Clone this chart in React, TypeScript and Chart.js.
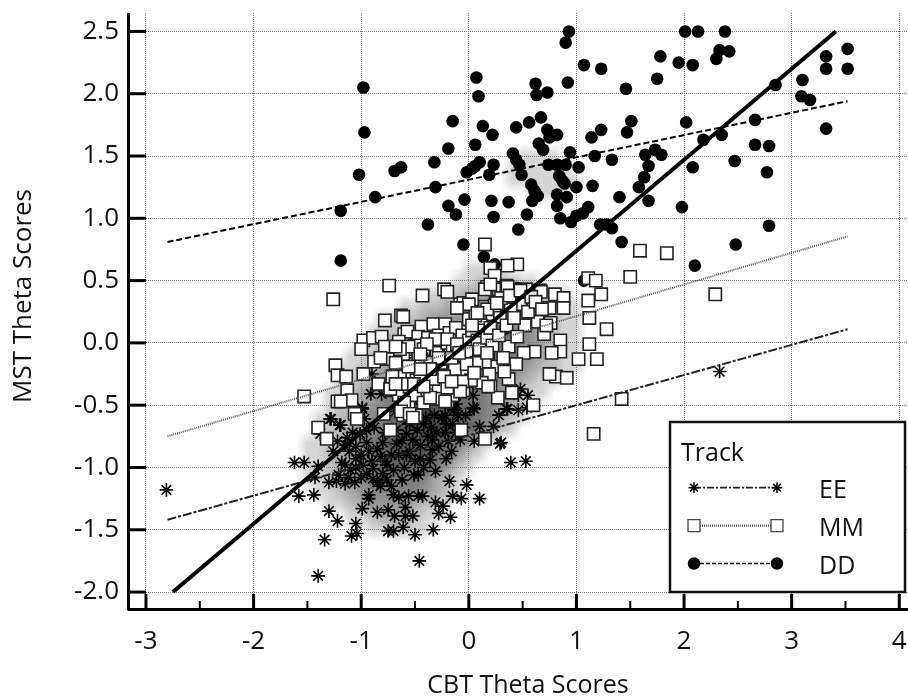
import React, { useEffect, useRef } from "react";
import { Chart, registerables } from "chart.js";

Chart.register(...registerables);

const xTickValues = [-3, -2, -1, 0, 1, 2, 3, 4];
const xMinorValues = [-2.5, -1.5, -0.5, 0.5, 1.5, 2.5, 3.5];
const yTickValues = [-2, -1.5, -1, -0.5, 0, 0.5, 1, 1.5, 2, 2.5];
const xAxisTitle = "CBT Theta Scores";
const yAxisTitle = "MST Theta Scores";
const legendTitle = "Track";
const trackNames = ["EE", "MM", "DD"];

const ddPoints = [
  [-0.98,2.05],[-0.97,1.69],[-1.02,1.35],[-0.87,1.17],[-1.19,1.06],[-1.19,0.66],[-0.69,1.38],[-0.63,1.41],[-0.32,1.45],[-0.31,1.25],
  [-0.19,1.56],[-0.15,1.78],[-0.38,0.95],[-0.19,1.10],[-0.12,1.03],[-0.04,1.15],[-0.05,0.79],[0.14,0.69],[0.24,0.63],[0.07,2.13],
  [0.09,1.98],[0.13,1.74],[0.22,1.67],[0.06,1.59],[-0.02,1.37],[0.03,1.40],[0.06,1.42],[0.10,1.45],[0.23,1.43],[0.19,1.35],
  [0.21,1.14],[0.23,1.01],[0.93,2.50],[0.90,2.41],[1.07,2.23],[1.23,2.20],[0.92,2.09],[0.62,2.08],[0.73,2.01],[0.63,1.99],
  [1.46,2.04],[1.78,2.30],[1.75,2.12],[1.95,2.25],[2.08,2.23],[2.01,2.50],[2.13,2.50],[2.38,2.50],[2.33,2.35],[2.42,2.34],
  [2.30,2.28],[2.85,2.07],[3.10,2.11],[3.32,2.30],[3.52,2.36],[3.32,2.20],[3.52,2.20],[3.09,1.98],[3.17,1.95],[3.32,1.72],
  [2.66,1.79],[2.02,1.77],[1.51,1.78],[1.47,1.69],[1.23,1.71],[1.14,1.65],[0.67,1.81],[0.56,1.77],[0.44,1.73],[0.73,1.71],
  [0.75,1.65],[0.82,1.67],[0.65,1.60],[0.69,1.55],[0.94,1.53],[1.17,1.50],[1.33,1.47],[1.64,1.51],[1.73,1.55],[1.79,1.51],
  [1.67,1.42],[1.63,1.33],[1.58,1.25],[1.67,1.14],[1.40,1.17],[2.08,1.41],[2.18,1.63],[2.35,1.67],[2.66,1.59],[2.79,1.58],
  [2.47,1.46],[2.77,1.37],[1.98,1.09],[2.79,0.94],[2.48,0.79],[2.10,0.62],[0.41,1.52],[0.44,1.47],[0.47,1.43],[0.49,1.35],
  [0.74,1.43],[0.82,1.43],[0.90,1.43],[1.02,1.41],[0.84,1.34],[0.87,1.30],[0.89,1.28],[1.00,1.25],[1.15,1.26],[0.58,1.27],
  [0.61,1.22],[0.64,1.18],[0.59,1.14],[0.82,1.19],[0.91,1.17],[0.82,1.10],[0.37,1.13],[0.54,1.03],[0.46,0.91],[0.85,1.00],
  [0.95,0.97],[1.00,1.02],[1.06,1.04],[1.11,1.09],[1.22,0.95],[1.28,0.95],[1.33,0.92],[1.42,0.81],[1.07,0.50],[0.34,0.115],[0.45,0.44],
];

const mmPoints = [
  [1.59,0.74],[1.84,0.72],[1.50,0.53],[2.29,0.39],[1.11,0.52],[1.18,0.50],[1.23,0.39],[1.11,0.34],[1.12,0.20],[1.28,0.11],
  [0.15,0.79],[0.20,0.60],[0.24,0.54],[0.17,0.45],[0.28,0.43],[-1.26,0.35],[-0.74,0.46],[-0.43,0.38],[-0.23,0.43],[-0.20,0.41],
  [-0.78,0.18],[-0.63,0.22],[-0.61,0.21],[-0.44,0.13],[0.45,0.63],[0.36,0.62],[0.66,0.42],[0.35,0.46],[-1.53,-0.43],
  [-0.98,0.02],[-0.89,0.04],[-0.81,0.05],[-1.00,-0.05],[-0.78,-0.03],[-1.24,-0.18],[-1.22,-0.26],[-1.14,-0.27],[-0.98,-0.25],[-0.82,-0.13],[-0.88,-0.15],
  [-1.13,-0.38],[-1.09,-0.46],[-1.22,-0.47],[-1.19,-0.47],[-1.40,-0.68],[-1.32,-0.77],[-1.06,-0.57],[-1.04,-0.61],[-0.84,-0.33],[-0.73,-0.38],[-0.79,-0.57],[-0.73,-0.70],
  [-0.33,0.15],[-0.22,0.15],[-0.08,0.09],[-0.60,0.07],[-0.57,0.09],[-0.47,0.05],[-0.08,0.31],[-0.05,0.32],[0.03,0.35],[0.15,0.43],[0.20,0.47],[0.36,0.45],
  [0.53,0.43],[0.67,0.41],[0.80,0.39],[0.88,0.36],[0.88,0.28],[0.75,0.28],[0.60,0.27],[0.48,0.31],[0.25,0.32],[0,0.19],[0.15,0.29],[0.22,0.23],[0.39,0.27],
  [0.11,0.14],[0.29,0.21],[0.52,0.14],[0.64,0.17],[0.76,0.16],[0.70,0.07],[0.85,0.02],[0.85,-0.07],[0.77,-0.08],[0.61,-0.07],[0.51,-0.08],[0.37,-0.03],
  [0.44,-0.17],[0.37,-0.29],[0.20,-0.35],[0.27,-0.44],[0.40,-0.40],[0.60,-0.50],[0.15,-0.77],[-0.07,-0.70],[1.02,-0.13],[0.81,-0.27],[0.91,-0.28],
  [0.18,-0.09],[0,-0.17],[0.08,-0.15],[0.25,-0.19],[0.19,-0.25],[0.33,-0.23],[-0.08,-0.39],[-0.05,-0.31],[-0.20,-0.47],[-0.36,-0.45],[-0.29,-0.43],
  [-0.48,-0.30],[-0.51,-0.24],[-0.61,-0.11],[-0.54,-0.11],[-0.45,-0.06],[-0.33,0.02],[-0.23,-0.04],[-0.14,0.02],[-0.05,-0.03],[-0.26,-0.11],[-0.17,-0.09],
  [-0.39,-0.14],[-0.51,-0.17],[-0.67,-0.22],[-0.70,-0.27],[-0.62,-0.31],[-0.29,-0.25],[-0.12,-0.17],[-0.11,-0.25],[-0.17,-0.30],[-0.23,-0.35],[-0.42,-0.38],
  [-0.56,-0.50],[-0.61,-0.58],[-0.49,-0.58],
  [-0.62,-0.12],[-0.58,-0.05],[-0.56,-0.2],[-0.5,-0.02],[-0.47,-0.12],[-0.44,-0.22],[-0.4,-0.05],[-0.38,0.04],[-0.35,-0.18],[-0.33,-0.3],[-0.3,-0.08],
  [-0.28,0.06],[-0.26,-0.18],[-0.24,-0.26],[-0.2,0.0],[-0.18,0.08],[-0.15,-0.05],[-0.14,-0.15],[-0.12,0.12],[-0.1,-0.33],[-0.08,-0.02],[-0.06,0.06],
  [-0.04,-0.1],[-0.03,-0.22],[0,0.02],[0.02,-0.08],[0.03,0.1],[0.05,-0.25],[0.06,0.22],[0.08,0.02],[0.1,-0.05],[0.12,-0.32],[0.13,0.1],[0.15,-0.15],
  [0.17,0.04],[0.2,0.12],[0.22,-0.02],[0.24,0.3],[0.28,0.06],[0.3,0.36],[0.32,-0.12],[0.35,0.14],[0.38,0.38],[0.42,0.2],[0.45,0.05],[0.48,0.42],
  [0.55,0.25],[0.58,0.37],[0.62,0.33],[0.68,0.27],[0.72,0.14],[-0.72,-0.13],[-0.68,-0.35],[-0.65,-0.42],[-0.6,-0.26],[-0.55,-0.35],[-0.5,-0.42],
  [-0.45,-0.3],[-0.42,-0.48],[-0.38,-0.35],[-0.33,-0.42],[-0.28,-0.35],[-0.25,-0.45],[-0.15,-0.42],[-0.05,-0.38],[0.02,-0.3],[-0.6,-0.48],[-0.63,-0.55],
  [-0.55,-0.57],[-0.52,-0.6],[1.16,-0.73],[1.42,-0.45],[1.19,-0.13],[1.12,-0.01],[0.75,-0.25],
  [-0.65,0.01],[-0.61,-0.09],[-0.56,-0.03],[-0.42,-0.05],[-0.31,0.03],[-0.20,0.03],[-0.11,-0.01],[-0.02,-0.07],[0.07,-0.16],[0.17,-0.08],[-0.44,-0.13],
  [-0.64,-0.27],[-0.71,-0.27],[-0.73,-0.37],[-0.82,-0.12],[-0.36,-0.16],[-0.23,-0.13],[-0.13,-0.21],[-0.02,-0.17],[-0.06,-0.31],[0.05,-0.24],[0.18,-0.35],
  [-0.33,-0.29],[-0.20,-0.36],[-0.08,-0.39],[-0.22,-0.47],[-0.36,-0.44],[-0.64,-0.05],[-0.68,-0.03],[-0.39,-0.01],[-0.45,-0.09],[-0.28,-0.12],[-0.16,-0.12],
  [-0.09,-0.08],[-0.36,-0.21],[-0.45,-0.21],[-0.56,-0.19],[-0.68,-0.16],[-0.61,-0.33],[-0.68,-0.33],[-0.51,-0.33],[-0.42,-0.35],[-0.23,-0.27],[-0.16,-0.31],
  [0.03,0.14],[0,0.31],[-0.11,0.28],[0.17,0.27],[0.26,0.32],[0.08,0.24],
];

const eePoints = [
  [-2.81,-1.18],[-1.40,-1.87],[-0.46,-1.75],[-1.34,-1.58],[-1.09,-1.55],[-1.04,-1.53],[-1.05,-1.45],[-1.22,-1.43],[-1.30,-1.35],[-1.58,-1.23],
  [-1.44,-1.22],[-1.62,-0.96],[-1.53,-0.96],[-1.40,-0.99],[-1.43,-1.08],[-1.30,-1.12],[-1.21,-1.06],[-1.23,-1.11],[-1.15,-1.13],[-1.06,-1.12],
  [-1.10,-1.02],[-1.18,-0.96],[-1.26,-0.87],[-1.11,-0.87],[-1.22,-0.79],[-1.13,-0.76],[-1.01,-0.73],[-1.38,-0.73],[-1.20,-0.66],[-1.28,-0.61],
  [-0.99,-0.52],[-0.97,-0.61],[-0.93,-0.87],[-0.82,-0.91],[-0.89,-1.01],[-0.98,-0.98],[-0.76,-0.98],[-0.67,-0.81],[-0.58,-0.73],[-0.58,-0.90],
  [-0.55,-0.87],[-0.45,-0.93],[-0.36,-0.94],[-0.31,-1.03],[-0.51,-1.06],[-0.47,-1.06],[-0.62,-1.10],[-0.76,-1.10],[-0.82,-1.15],[-0.89,-1.09],
  [-0.93,-1.22],[-0.93,-1.25],[-0.99,-1.33],[-0.70,-1.22],[-0.65,-1.24],[-0.56,-1.23],[-0.47,-1.23],[-0.43,-1.23],[-0.18,-1.11],[-0.02,-1.14],
  [-0.15,-1.23],[-0.07,-1.25],[0.10,-1.25],[-0.31,-1.28],[-0.24,-1.31],[-0.28,-1.37],[-0.17,-1.40],[-0.59,-1.32],[-0.75,-1.34],[-0.85,-1.36],
  [-0.69,-1.39],[-0.59,-1.39],[-0.52,-1.39],[-0.75,-1.51],[-0.70,-1.51],[-0.61,-1.48],[-0.50,-1.54],[-0.33,-1.50],[0.39,-0.96],[0.53,-0.95],
  [0.29,-0.81],[0.05,-0.79],[-0.08,-0.78],[-0.21,-0.93],[-0.16,-0.87],[-0.34,-0.86],[-0.34,-0.78],[-0.19,-0.79],[0.10,-0.67],[0.23,-0.67],
  [0.28,-0.58],[0.35,-0.53],[0.46,-0.54],[0.54,-0.52],[0.04,-0.52],[-0.13,-0.53],[-0.21,-0.65],[-0.42,-0.65],[-0.58,-0.62],
  [-0.90,-0.25],[-0.91,-0.41],[-0.81,-0.41],[-0.99,-0.53],[-1.29,-0.61],[-1.19,-0.66],[0.48,-0.37],[0.46,-0.42],[0.55,-0.42],[0.36,-0.53],
  [0.30,-0.80],[0.04,-0.42],[0.05,-0.53],[-0.12,-0.49],[-0.20,-0.30],[0,-0.33],[-0.14,-0.54],[-0.22,-0.58],[-0.51,-0.47],[-0.73,-0.70],[-0.50,-0.58],[2.33,-0.23],
  [-1.05,-0.83],[-1.0,-0.9],[-0.95,-0.8],[-0.9,-0.95],[-0.85,-0.85],[-0.8,-0.8],[-0.78,-0.95],[-0.72,-0.9],[-0.7,-1.02],[-0.68,-0.7],[-0.65,-0.9],
  [-0.62,-0.78],[-0.6,-1.0],[-0.55,-0.65],[-0.52,-0.78],[-0.5,-0.95],[-0.48,-0.7],[-0.45,-0.82],[-0.42,-1.0],[-0.4,-0.6],[-0.38,-0.75],[-0.35,-0.68],
  [-0.32,-0.58],[-0.3,-0.72],[-0.28,-0.83],[-0.25,-0.6],[-0.22,-0.72],[-0.15,-0.65],[-0.12,-0.72],[-0.1,-0.58],[-0.05,-0.68],[-0.03,-0.58],[-1.15,-0.98],
  [-1.12,-1.08],[-1.05,-1.0],[-1.0,-1.08],[-0.95,-1.05],[-0.85,-1.12],[-0.8,-1.05],[-0.72,-1.15],[-0.68,-0.55],[-0.6,-0.52],[-0.78,-0.72],[-0.88,-0.68],
  [-0.95,-0.7],[-1.08,-0.72],[-1.15,-0.82],[-1.05,-0.93],
];

const identityLine = [[-2.75,-2.0],[3.41,2.5]];
const ddFitLine = [[-2.80,0.81],[3.52,1.94]];
const mmFitLine = [[-2.80,-0.75],[3.52,0.855]];
const eeFitLine = [[-2.80,-1.42],[3.52,0.11]];

// Density cloud: first column is x=-1.6, one column per 0.1; one row per 0.1 of y, first row y=1.6.
const densityFirstX = -1.6;
const densityFirstY = 1.6;
const densityCellSize = 0.1;
const densityColumns = 29;
const densityRows = [
  "",
  "0000000000000000000001111",
  "00000000000000000000111111",
  "000000000000000000001111111",
  "00000000000000000000001111",
  "", "", "", "",
  "",
  "00000000000000001111",
  "00000000000000011222211",
  "00000000000011223333333211",
  "000000000011223344444332211",
  "000000001122344455554433211",
  "000000011223455666665543211",
  "000000112334566776666543211",
  "000001122345677776666543211",
  "000011223456677776665432211",
  "0000112345667777766543211",
  "000112345677777766543211",
  "00012234567888877654321",
  "0011234567899988765321",
  "001223456789999876421",
  "0112345678888876421",
  "011234567888876421",
  "01123456777776421",
  "0112345666665321",
  "0011234555554321",
  "000112344443211",
  "00000112333211",
  "0000000112211",
  "",
];

const densityLevelGray = [255, 214, 192, 170, 152, 136, 120, 104, 88, 70];

const FONT = '"Open Sans", "Noto Sans", sans-serif';

const toXY = (pts: number[][]) => pts.map(([x, y]) => ({ x, y }));

const noPadding = (s: any) => {
  s.paddingLeft = 0;
  s.paddingRight = 0;
  s.paddingTop = 0;
  s.paddingBottom = 0;
};

const decorPlugin = {
  id: "decor",
  beforeDraw(chart: any) {
    const { ctx, scales } = chart;
    const { x, y } = scales;
    ctx.save();
    ctx.fillStyle = "#fff";
    ctx.fillRect(0, 0, chart.width, chart.height);
    const off = document.createElement("canvas");
    off.width = densityColumns;
    off.height = densityRows.length;
    const octx = off.getContext("2d") as CanvasRenderingContext2D;
    octx.fillStyle = "#fff";
    octx.fillRect(0, 0, off.width, off.height);
    densityRows.forEach((row, r) => {
      [...row].forEach((c, i) => {
        const g = densityLevelGray[Number(c)];
        octx.fillStyle = `rgb(${g},${g},${g})`;
        octx.fillRect(i, r, 1, 1);
      });
    });
    const half = densityCellSize / 2;
    const x0 = x.getPixelForValue(densityFirstX - half);
    const x1 = x.getPixelForValue(densityFirstX - half + densityColumns * densityCellSize);
    const y0 = y.getPixelForValue(densityFirstY + half);
    const y1 = y.getPixelForValue(densityFirstY + half - densityRows.length * densityCellSize);
    ctx.imageSmoothingEnabled = true;
    ctx.imageSmoothingQuality = "medium";
    ctx.drawImage(off, x0, y0, x1 - x0, y1 - y0);
    ctx.restore();
  },
  afterDraw(chart: any) {
    const { ctx, scales } = chart;
    const { x, y } = scales;
    const area = chart.chartArea;
    ctx.save();
    ctx.setLineDash([]);
    ctx.strokeStyle = "#000";
    // axis lines
    ctx.lineWidth = 3;
    ctx.beginPath();
    ctx.moveTo(area.left + 0.5, area.top);
    ctx.lineTo(area.left + 0.5, area.bottom + 1.5);
    ctx.moveTo(area.left, area.bottom + 0.5);
    ctx.lineTo(area.right, area.bottom + 0.5);
    ctx.stroke();
    // major ticks
    xTickValues.forEach((v) => {
      const p = x.getPixelForValue(v);
      ctx.beginPath();
      ctx.moveTo(p, area.bottom);
      ctx.lineTo(p, area.bottom - 15);
      ctx.stroke();
    });
    yTickValues.forEach((v) => {
      const p = y.getPixelForValue(v);
      ctx.beginPath();
      ctx.moveTo(area.left, p);
      ctx.lineTo(area.left + 18, p);
      ctx.stroke();
    });
    ctx.lineWidth = 2;
    xMinorValues.forEach((v) => {
      const p = x.getPixelForValue(v);
      ctx.beginPath();
      ctx.moveTo(p, area.bottom);
      ctx.lineTo(p, area.bottom - 8);
      ctx.stroke();
    });

    // axis titles
    ctx.fillStyle = "#111";
    ctx.font = `25px ${FONT}`;
    ctx.textAlign = "center";
    ctx.textBaseline = "middle";
    ctx.fillText(xAxisTitle, 528, 686);
    ctx.save();
    ctx.font = `26px ${FONT}`;
    ctx.translate(24, 296);
    ctx.rotate(-Math.PI / 2);
    ctx.fillText(yAxisTitle, 0, 0);
    ctx.restore();

    // legend
    const bx = 670, by = 422, bw = 235, bh = 170;
    ctx.fillStyle = "#fff";
    ctx.fillRect(bx, by, bw, bh);
    ctx.lineWidth = 2.5;
    ctx.strokeStyle = "#111";
    ctx.strokeRect(bx, by, bw, bh);
    ctx.fillStyle = "#111";
    ctx.textAlign = "left";
    ctx.textBaseline = "alphabetic";
    ctx.font = `25px ${FONT}`;
    ctx.fillText(legendTitle, 681, 461);
    const x0 = 694, x1 = 777;
    const rowY = [487.7, 525.7, 563.5];
    const textY = [498, 536, 574];
    const styles = [
      { dash: [7, 2, 2, 2], color: "#222", w: 1.8 },
      { dash: [1, 1], color: "#555", w: 2 },
      { dash: [4, 2], color: "#111", w: 1.6 },
    ];
    trackNames.forEach((name, i) => {
      const ly = rowY[i];
      ctx.save();
      ctx.beginPath();
      ctx.setLineDash(styles[i].dash);
      ctx.lineWidth = styles[i].w;
      ctx.strokeStyle = styles[i].color;
      ctx.moveTo(x0, ly);
      ctx.lineTo(x1, ly);
      ctx.stroke();
      ctx.setLineDash([]);
      [x0, x1].forEach((mx) => {
        ctx.beginPath();
        if (i === 0) {
          ctx.lineWidth = 1.5;
          ctx.strokeStyle = "#000";
          const r = 5.4;
          const d = r * Math.SQRT1_2;
          ctx.moveTo(mx - r, ly); ctx.lineTo(mx + r, ly);
          ctx.moveTo(mx, ly - r); ctx.lineTo(mx, ly + r);
          ctx.moveTo(mx - d, ly - d); ctx.lineTo(mx + d, ly + d);
          ctx.moveTo(mx - d, ly + d); ctx.lineTo(mx + d, ly - d);
          ctx.stroke();
        } else if (i === 1) {
          ctx.fillStyle = "#fff";
          ctx.strokeStyle = "#444";
          ctx.lineWidth = 1.3;
          ctx.rect(mx - 6, ly - 6, 12, 12);
          ctx.fill();
          ctx.stroke();
        } else {
          ctx.fillStyle = "#000";
          ctx.arc(mx, ly, 6.2, 0, Math.PI * 2);
          ctx.fill();
        }
      });
      ctx.restore();
      ctx.fillStyle = "#111";
      ctx.fillText(name, 819, textY[i]);
    });
    ctx.restore();
  },
};

export default function App() {
  const ref = useRef<HTMLCanvasElement | null>(null);
  useEffect(() => {
    const chart = new Chart(ref.current as HTMLCanvasElement, {
      type: "scatter",
      data: {
        datasets: [
          { label: "Identity", data: toXY(identityLine), showLine: true, pointRadius: 0, borderColor: "#000", borderWidth: 4, order: 1 },
          { label: "DD fit", data: toXY(ddFitLine), showLine: true, pointRadius: 0, borderColor: "#000", borderWidth: 2, borderDash: [6, 3], order: 2 },
          { label: "MM fit", data: toXY(mmFitLine), showLine: true, pointRadius: 0, borderColor: "#555", borderWidth: 2, borderDash: [1, 1], order: 3 },
          { label: "EE fit", data: toXY(eeFitLine), showLine: true, pointRadius: 0, borderColor: "#222", borderWidth: 2, borderDash: [9, 2, 3, 2], order: 4 },
          { label: "MM", data: toXY(mmPoints), pointStyle: "rect", pointRadius: 8.7, backgroundColor: "#fff", borderColor: "#222", borderWidth: 1.6, order: 5 },
          { label: "EE", data: toXY(eePoints), pointStyle: "star", pointRadius: 6.8, backgroundColor: "#000", borderColor: "#000", borderWidth: 1.6, order: 6 },
          { label: "DD", data: toXY(ddPoints), pointStyle: "circle", pointRadius: 6.3, backgroundColor: "#000", borderColor: "#000", borderWidth: 0, order: 7 },
        ],
      },
      plugins: [decorPlugin],
      options: {
        animation: false,
        responsive: false,
        maintainAspectRatio: false,
        layout: { autoPadding: false, padding: { top: 13, left: 0, right: 0, bottom: 0 } },
        plugins: { legend: { display: false }, title: { display: false }, tooltip: { enabled: false } },
        scales: {
          x: {
            type: "linear",
            min: -3.167,
            max: 4.081,
            afterFit: (s: any) => { s.height = 88; noPadding(s); },
            afterBuildTicks: (s: any) => { s.ticks = xTickValues.map((value) => ({ value })); },
            grid: { color: "#777", lineWidth: 1, drawTicks: false },
            border: { display: false, dash: [1, 1] },
            ticks: {
              autoSkip: false, maxRotation: 0, padding: 17, color: "#111",
              font: { family: FONT, size: 26 },
              callback: (v: any) => String(v),
            },
          },
          y: {
            type: "linear",
            min: -2.136,
            max: 2.648,
            afterFit: (s: any) => { s.width = 128; noPadding(s); },
            afterBuildTicks: (s: any) => { s.ticks = yTickValues.map((value) => ({ value })); },
            grid: { color: "#777", lineWidth: 1, drawTicks: false },
            border: { display: false, dash: [1, 1] },
            ticks: {
              autoSkip: false, padding: 9, color: "#111",
              font: { family: FONT, size: 26 },
              callback: (v: any) => Number(v).toFixed(1),
            },
          },
        },
      },
    } as any);
    return () => chart.destroy();
  }, []);
  return (
    <div style={{ position: "absolute", left: 0, top: 0, width: 908, height: 697, background: "#fff" }}>
      <canvas ref={ref} width={908} height={697} style={{ display: "block", width: 908, height: 697 }} />
    </div>
  );
}
